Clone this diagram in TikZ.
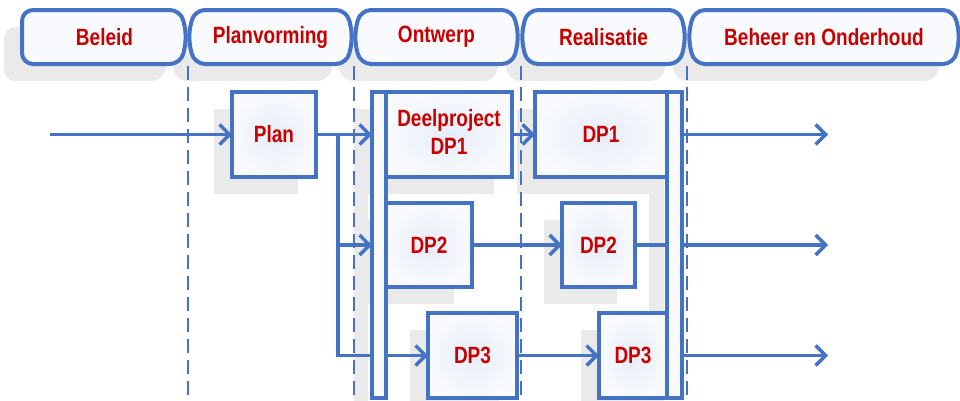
\documentclass[tikz,border=0pt]{standalone}
\usepackage{fontspec}
\usepackage{graphicx}
\setmainfont{Liberation Sans}
\usetikzlibrary{arrows.meta,calc}

\definecolor{lineblue}{RGB}{68,114,196}
\definecolor{labelred}{RGB}{200,0,0}
\definecolor{shadowgray}{RGB}{234,234,234}
\definecolor{paneltint}{RGB}{248,250,253}
\definecolor{glowblue}{RGB}{230,237,248}

\pgfdeclarelayer{shadows}
\pgfdeclarelayer{guides}
\pgfsetlayers{shadows,guides,main}

% bold label, slightly stretched vertically
\newcommand{\boxlabel}[1]{\scalebox{1}[1.24]{\bfseries #1}}

\tikzset{
  labelfont/.style={font=\fontsize{19pt}{22.5pt}\selectfont, text=labelred},
  stagebox/.style={draw=lineblue, line width=4.2pt, inner color=glowblue,
    outer color=paneltint, inner sep=0pt, outer sep=0pt, labelfont},
  railbar/.style={draw=lineblue, line width=4.2pt, fill=paneltint,
    inner sep=0pt, outer sep=0pt},
  phase/.style={draw=lineblue, line width=4pt, fill=paneltint, rounded corners=11pt},
  phaseshadow/.style={fill=shadowgray, rounded corners=11pt},
  phasetext/.style={labelfont, inner sep=0pt},
  guide/.style={draw=lineblue, line width=2.4pt, dash pattern=on 14pt off 7pt},
  link/.style={draw=lineblue, line width=3.5pt},
  flow/.style={link, -{Straight Barb[length=10pt,width=20pt]}},
}

% one phase of the header band: left x, right x, left bulge, name, text
\newcommand{\phasebar}[5]{%
  \begin{pgfonlayer}{shadows}
    \fill[phaseshadow, shift={(-18,17)}] (#1-#3,37) -- (#1,10) -- (#2,10)
      -- (#2+6,37) -- (#2,64) -- (#1,64) -- cycle;
  \end{pgfonlayer}
  \draw[phase] (#1-#3,37) -- (#1,10) -- (#2,10) -- (#2+6,37) -- (#2,64)
    -- (#1,64) -- cycle;
  \node[phasetext] (#4) at ({(#1-#3+#2+6)/2},37) {\boxlabel{#5}};
}

\begin{document}
\begin{tikzpicture}[x=1pt,y=-1pt]
\useasboundingbox (0,0) rectangle (960,400);

% header band
\phasebar{22}{181}{0}{beleid}{Beleid}
\phasebar{194}{347}{6}{planvorming}{Planvorming}
\phasebar{360}{513}{6}{ontwerp}{Ontwerp}
\phasebar{527}{680}{6}{realisatie}{Realisatie}
\phasebar{694}{954}{6}{beheer}{Beheer en Onderhoud}

% phase boundaries
\begin{pgfonlayer}{guides}
  \foreach \gx in {188,354,521,687}
    \draw[guide] (\gx,66) -- (\gx,400);
\end{pgfonlayer}

% work packages
\node[stagebox, minimum width=84, minimum height=85] (plan) at (274,134.5) {\boxlabel{Plan}};
\node[railbar, minimum width=14, minimum height=306] (railA) at (379,245) {};
\node[stagebox, minimum width=126, minimum height=85] (dpOneA) at (449,134.5)
  {\boxlabel{\begin{tabular}{@{}c@{}}Deelproject\\DP1\end{tabular}}};
\node[stagebox, minimum width=86, minimum height=84] (dpTwoA) at (429,245) {\boxlabel{DP2}};
\node[stagebox, minimum width=89, minimum height=85] (dpThreeA) at (472.5,355.5) {\boxlabel{DP3}};
\node[stagebox, minimum width=132, minimum height=85] (dpOneB) at (601,134.5) {\boxlabel{DP1}};
\node[stagebox, minimum width=73, minimum height=84] (dpTwoB) at (598.5,245) {\boxlabel{DP2}};
\node[stagebox, minimum width=68, minimum height=85] (dpThreeB) at (633,355.5) {\boxlabel{DP3}};
\node[railbar, minimum width=15, minimum height=306] (railB) at (674.5,245) {};

% drop shadows
\begin{pgfonlayer}{shadows}
  \foreach \n in {plan,railA,dpOneA,dpTwoA,dpThreeA,dpOneB,dpTwoB,dpThreeB,railB}
    \fill[shadowgray] ($(\n.south west)+(-18,17)$) rectangle ($(\n.north east)+(-18,17)$);
\end{pgfonlayer}

% connectors
\coordinate (src) at (50,134.5);
\coordinate (fork) at (338,134.5);
\coordinate (forkEnd) at (338,355.5);
\coordinate (outOne) at (828,134.5);
\coordinate (outTwo) at (828,245);
\coordinate (outThree) at (828,355.5);

\draw[flow] (src) -- (plan.west);
\draw[flow] (plan.east) -- (plan.east -| railA.west);
\draw[link] (fork) -- (forkEnd) -- (forkEnd -| railA.west);
\draw[flow] (fork |- dpTwoA) -- (dpTwoA -| railA.west);
\draw[flow] (dpThreeA -| railA.east) -- (dpThreeA.west);
\draw[flow] (dpOneA.east) -- (dpOneB.west);
\draw[flow] (dpTwoA.east) -- (dpTwoB.west);
\draw[flow] (dpThreeA.east) -- (dpThreeB.west);
\draw[link] (dpTwoB.east) -- (dpTwoB -| railB.west);
\draw[flow] (dpOneB -| railB.east) -- (outOne);
\draw[flow] (dpTwoB -| railB.east) -- (outTwo);
\draw[flow] (dpThreeB -| railB.east) -- (outThree);
\end{tikzpicture}
\end{document}
